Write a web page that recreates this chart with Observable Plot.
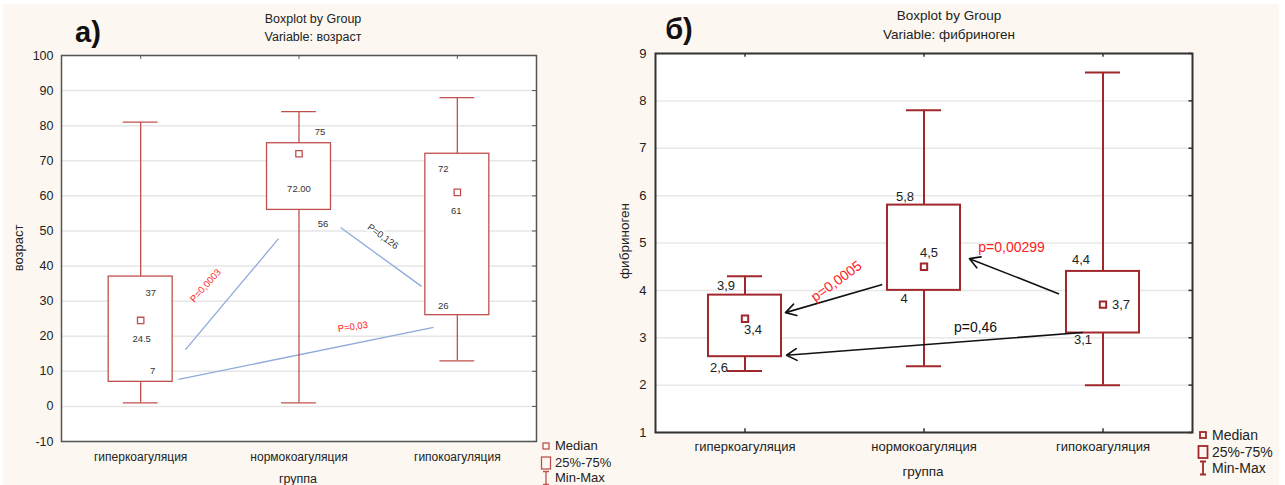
<!DOCTYPE html>
<html><head><meta charset="utf-8">
<script src="https://cdn.jsdelivr.net/npm/d3@7"></script>
<script src="https://cdn.jsdelivr.net/npm/@observablehq/plot@0.6"></script>
<style>
body{margin:0;background:#fff;font-family:"Liberation Sans",Arial,sans-serif;}
#wrap{position:relative;width:1285px;height:485px;overflow:hidden;}
#bg{position:absolute;left:3px;top:4px;width:1276px;height:481px;background:#fcf8f1;}
.plot{position:absolute;top:0;}
.t{position:absolute;transform:translate(-50%,-50%);white-space:nowrap;color:#222;line-height:1;}
.leg{position:absolute;font-size:13px;color:#222;}
</style></head><body><div id="wrap"><div id="bg"></div></div>
<script>
// ---------- data ----------
const categories = ["гиперкоагуляция", "нормокоагуляция", "гипокоагуляция"];

// panel а) возраст
const ageMin    = [1, 1, 13];
const ageQ1     = [7, 56, 26];
const ageMedian = [24.5, 72, 61];
const ageQ3     = [37, 75, 72];
const ageMax    = [81, 84, 88];
const ageTicks  = [-10, 0, 10, 20, 30, 40, 50, 60, 70, 80, 90, 100];
const ageQ3Labels     = ["37", "75", "72"];
const ageMedianLabels = ["24.5", "72.00", "61"];
const ageQ1Labels     = ["7", "56", "26"];
// comparison lines (x in category units, y in years)
const ageLinks = [
  {x1: 0.283, y1: 16.2, x2: 0.871, y2: 47.8},
  {x1: 1.262, y1: 51.0, x2: 1.774, y2: 34.2},
  {x1: 0.239, y1: 7.7,  x2: 1.850, y2: 22.5}
];
const agePLabels = [
  {x: 0.41, y: 34.4, text: "P=0,0003"},
  {x: 1.53, y: 48.4, text: "P=0,126"},
  {x: 1.34, y: 22.7, text: "P=0,03"}
];

// panel б) фибриноген
const fibMin    = [2.3, 2.4, 2.0];
const fibQ1     = [2.6, 4.0, 3.1];
const fibMedian = [3.4, 4.5, 3.7];
const fibQ3     = [3.9, 5.8, 4.4];
const fibMax    = [4.3, 7.8, 8.6];
const fibTicks  = [1, 2, 3, 4, 5, 6, 7, 8, 9];
const fibQ3Labels     = ["3,9", "5,8", "4,4"];
const fibMedianLabels = ["3,4", "4,5", "3,7"];
const fibQ1Labels     = ["2,6", "4", "3,1"];
const fibArrows = [
  {x1: 0.763, y1: 4.12, x2: 0.226, y2: 3.53},
  {x1: 1.751, y1: 3.93, x2: 1.254, y2: 4.67},
  {x1: 1.885, y1: 3.11, x2: 0.232, y2: 2.63}
];
const fibPLabels = [
  {x: 0.511, y: 4.19, text: "p=0,0005"},
  {x: 1.489, y: 4.90, text: "p=0,00299"},
  {x: 1.288, y: 3.22, text: "p=0,46"}
];

// ---------- helpers ----------
const rows = (mn, q1, md, q3, mx) => categories.map((c, i) => ({i, min: mn[i], q1: q1[i], med: md[i], q3: q3[i], max: mx[i]}));
const ageRows = rows(ageMin, ageQ1, ageMedian, ageQ3, ageMax);
const fibRows = rows(fibMin, fibQ1, fibMedian, fibQ3, fibMax);
const idx = categories.map((c, i) => i);

function boxMarks(data, color, sw, boxHalf, capHalf, r) {
  return [
    Plot.ruleX(data, {x: "i", y1: "min", y2: "max", stroke: color, strokeWidth: sw}),
    Plot.ruleY(data, {y: "min", x1: d => d.i - capHalf, x2: d => d.i + capHalf, stroke: color, strokeWidth: sw}),
    Plot.ruleY(data, {y: "max", x1: d => d.i - capHalf, x2: d => d.i + capHalf, stroke: color, strokeWidth: sw}),
    Plot.rect(data, {x1: d => d.i - boxHalf, x2: d => d.i + boxHalf, y1: "q1", y2: "q3", fill: "white", stroke: color, strokeWidth: sw}),
    Plot.dot(data, {x: "i", y: "med", symbol: "square", r, fill: "white", stroke: color, strokeWidth: sw})
  ];
}
function labelMarks(data, key, labels, offsets, opts) {
  return offsets.map((o, i) => Plot.text([data[i]], {x: "i", y: key, text: () => labels[i], dx: o[0], dy: o[1], ...opts}));
}

const wrap = document.getElementById("wrap");
function addText(txt, x, y, css) {
  const d = document.createElement("div");
  d.className = "t"; d.textContent = txt;
  d.style.left = x + "px"; d.style.top = y + "px";
  Object.assign(d.style, css || {});
  wrap.appendChild(d);
}

// ---------- panel а ----------
const ageColor = "#c0504d";
const L = Plot.plot({
  width: 640, height: 485,
  marginLeft: 61, marginRight: 104, marginTop: 55, marginBottom: 44,
  style: {background: "transparent", fontFamily: "Liberation Sans, Arial, sans-serif", color: "#222", overflow: "visible"},
  x: {domain: [-0.5, 2.5], axis: null},
  y: {domain: [-10, 100], axis: null},
  marks: [
    Plot.frame({fill: "white"}),
    Plot.ruleY(ageTicks, {stroke: "#e6e6e6", strokeWidth: 1.5}),
    Plot.axisY({ticks: ageTicks, tickFormat: d => String(d), tickSize: 0, tickPadding: 8, fontSize: 12.5, label: null}),
    Plot.axisX({ticks: idx, tickFormat: i => categories[i], tickSize: 0, tickPadding: 11, fontSize: 12, label: null}),
    Plot.ruleY(ageTicks, {y: d => d, x1: 2.5, x2: 2.475, stroke: "#555"}),
    Plot.ruleX(idx, {x: d => d, y1: 100, y2: 98.9, stroke: "#555"}),
    Plot.link(ageLinks, {x1: "x1", y1: "y1", x2: "x2", y2: "y2", stroke: "#8eaadb", strokeWidth: 1.3}),
    ...boxMarks(ageRows, ageColor, 1.3, 0.202, 0.11, 3.6),
    ...labelMarks(ageRows, "q3", ageQ3Labels, [[10, 16], [21, -11], [-14, 15]], {fontSize: 9.5, fill: "#333", stroke: "white", strokeWidth: 4}),
    ...labelMarks(ageRows, "med", ageMedianLabels, [[1, 19], [0, 35], [-1, 19]], {fontSize: 9.5, fill: "#333", stroke: "white", strokeWidth: 4}),
    ...labelMarks(ageRows, "q1", ageQ1Labels, [[12, -11], [24, 14], [-14, -9]], {fontSize: 9.5, fill: "#333", stroke: "white", strokeWidth: 4}),
    Plot.text([agePLabels[0]], {x: "x", y: "y", text: "text", rotate: -48, fontSize: 9.5, fill: "#ff2020"}),
    Plot.text([agePLabels[1]], {x: "x", y: "y", text: "text", rotate: 36, fontSize: 9.5, fill: "#333", stroke: "white", strokeWidth: 4}),
    Plot.text([agePLabels[2]], {x: "x", y: "y", text: "text", rotate: -8, fontSize: 9.5, fill: "#ff2020", stroke: "white", strokeWidth: 4}),
    Plot.frame({stroke: "#555", strokeWidth: 1.5})
  ]
});
L.classList.add("plot"); L.style.left = "0px";
wrap.appendChild(L);

// ---------- panel б ----------
const fibColor = "#a0282d";
const R = Plot.plot({
  width: 685, height: 485,
  marginLeft: 55, marginRight: 93, marginTop: 53, marginBottom: 53,
  style: {background: "transparent", fontFamily: "Liberation Sans, Arial, sans-serif", color: "#222", overflow: "visible"},
  x: {domain: [-0.5, 2.5], axis: null},
  y: {domain: [1, 9], axis: null},
  marks: [
    Plot.frame({fill: "white"}),
    Plot.ruleY(fibTicks, {stroke: "#e8e8e8", strokeWidth: 1.5}),
    Plot.axisY({ticks: fibTicks, tickFormat: d => String(d), tickSize: 0, tickPadding: 9, fontSize: 13, label: null}),
    Plot.axisX({ticks: idx, tickFormat: i => categories[i], tickSize: 0, tickPadding: 9, fontSize: 13, label: null}),
    Plot.ruleY(fibTicks, {y: d => d, x1: 2.5, x2: 2.48, stroke: "#333", strokeWidth: 1.5}),
    Plot.ruleX(idx, {x: d => d, y1: 9, y2: 8.92, stroke: "#333", strokeWidth: 1.5}),
    Plot.ruleX(idx, {x: d => d, y1: 1, y2: 1.08, stroke: "#333", strokeWidth: 1.5}),
    ...boxMarks(fibRows, fibColor, 2, 0.204, 0.098, 3.6),
    Plot.arrow(fibArrows, {x1: "x1", y1: "y1", x2: "x2", y2: "y2", stroke: "#111", strokeWidth: 1.6, headLength: 11}),
    ...labelMarks(fibRows, "q3", fibQ3Labels, [[-19, -9], [-19, -8], [-22, -12]], {fontSize: 13, fill: "#222"}),
    ...labelMarks(fibRows, "med", fibMedianLabels, [[8, 11], [5, -14], [18, 0]], {fontSize: 13, fill: "#222"}),
    ...labelMarks(fibRows, "q1", fibQ1Labels, [[-26, 11], [-20, 8], [-20, 7]], {fontSize: 13, fill: "#222"}),
    Plot.text([fibPLabels[0]], {x: "x", y: "y", text: "text", rotate: -36, fontSize: 14, fill: "#ff2020"}),
    Plot.text([fibPLabels[1]], {x: "x", y: "y", text: "text", fontSize: 14, fill: "#ff2020"}),
    Plot.text([fibPLabels[2]], {x: "x", y: "y", text: "text", fontSize: 14, fill: "#111"}),
    Plot.frame({stroke: "#333", strokeWidth: 2})
  ]
});
R.classList.add("plot"); R.style.left = "600px";
wrap.appendChild(R);

// ---------- titles and axis names ----------
addText("Boxplot by Group", 313, 19, {fontSize: "12.5px"});
addText("Variable: возраст", 313, 37, {fontSize: "12.5px"});
addText("Boxplot by Group", 949, 16, {fontSize: "13.5px"});
addText("Variable: фибриноген", 949, 35, {fontSize: "13.5px"});
addText("а)", 88, 32, {fontSize: "29px", fontWeight: "bold", color: "#111"});
addText("б)", 679, 29, {fontSize: "29px", fontWeight: "bold", color: "#111"});
addText("группа", 298, 479, {fontSize: "12.5px"});
addText("группа", 923, 472, {fontSize: "13.5px"});
addText("возраст", 18, 248, {fontSize: "13px", transform: "translate(-50%,-50%) rotate(-90deg)"});
addText("фибриноген", 625, 241, {fontSize: "13.5px", transform: "translate(-50%,-50%) rotate(-90deg)"});

// ---------- legends ----------
function legend(x, ys, color, sw, fs) {
  const ns = "http://www.w3.org/2000/svg";
  const s = document.createElementNS(ns, "svg");
  s.setAttribute("width", 16); s.setAttribute("height", 50);
  s.style.position = "absolute"; s.style.left = (x - 8) + "px"; s.style.top = (ys[0] - 8) + "px"; s.style.overflow = "visible";
  const oy = ys[0] - 8;
  const add = (tag, attrs) => { const e = document.createElementNS(ns, tag); for (const k in attrs) e.setAttribute(k, attrs[k]); e.setAttribute("stroke", color); e.setAttribute("stroke-width", sw); e.setAttribute("fill", "none"); s.appendChild(e); };
  add("rect", {x: 5, y: ys[0] - oy - 3, width: 6, height: 6});
  add("rect", {x: 3.5, y: ys[1] - oy - 6, width: 9, height: 12});
  add("path", {d: `M5,${ys[2]-oy-6.5}H11M8,${ys[2]-oy-6.5}V${ys[2]-oy+6.5}M5,${ys[2]-oy+6.5}H11`});
  wrap.appendChild(s);
  ["Median", "25%-75%", "Min-Max"].forEach((t, i) => {
    const d = document.createElement("div");
    d.className = "leg"; d.textContent = t;
    d.style.left = (x + 9) + "px"; d.style.top = (ys[i] - fs * 0.58) + "px"; d.style.fontSize = fs + "px";
    wrap.appendChild(d);
  });
}
legend(546, [446, 463, 478], ageColor, 1.3, 13);
legend(1203, [435, 452, 468], fibColor, 1.8, 14);
</script></body></html>
